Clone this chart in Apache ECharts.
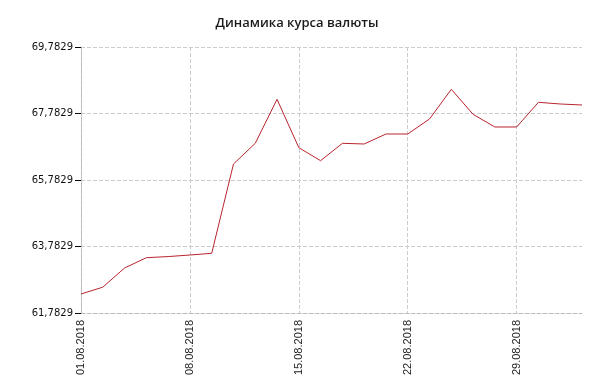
<!DOCTYPE html>
<html>
<head>
<meta charset="utf-8">
<script src="https://cdn.jsdelivr.net/npm/echarts@6/dist/echarts.min.js"></script>
<style>html,body{margin:0;padding:0;background:#fff}#c{width:594px;height:389px}</style>
</head>
<body>
<div id="c"></div>
<script>
var titleText = 'Динамика курса валюты';
var dates = ['01.08.2018','02.08.2018','03.08.2018','06.08.2018','07.08.2018','08.08.2018','09.08.2018','10.08.2018','13.08.2018','14.08.2018','15.08.2018','16.08.2018','17.08.2018','20.08.2018','21.08.2018','22.08.2018','23.08.2018','24.08.2018','27.08.2018','28.08.2018','29.08.2018','30.08.2018','31.08.2018','01.09.2018'];
var rates = [62.354, 62.560, 63.136, 63.446, 63.480, 63.527, 63.578, 66.264, 66.886, 68.209, 66.755, 66.364, 66.886, 66.866, 67.166, 67.166, 67.618, 68.510, 67.758, 67.377, 67.377, 68.119, 68.069, 68.039];
var yMin = 61.7829, yMax = 69.7829, yStep = 2;
var yTickLabels = ['61,7829', '63,7829', '65,7829', '67,7829', '69,7829'];

var chart = echarts.init(document.getElementById('c'));
chart.setOption({
  animation: false,
  title: {
    text: titleText, left: 'center', top: 12,
    textStyle: {fontFamily: 'Open Sans', fontSize: 13, fontWeight: 600, color: '#1a1a1a'}
  },
  grid: {left: 81, right: 12, top: 47, bottom: 76},
  xAxis: {
    type: 'category', data: dates, boundaryGap: false,
    axisLine: {lineStyle: {color: '#bbb', type: 'dashed'}},
    axisTick: {show: false},
    axisLabel: {interval: 4, rotate: 90, margin: 7, fontFamily: 'Liberation Sans', fontSize: 11, color: '#222'},
    splitLine: {show: true, interval: 4, lineStyle: {color: '#ccc', type: 'dashed'}}
  },
  yAxis: {
    type: 'value', min: yMin, max: yMax, interval: yStep,
    axisLine: {show: true, lineStyle: {color: '#bbb', type: 'dashed'}},
    axisTick: {show: true, length: 6, lineStyle: {color: '#000'}},
    axisLabel: {margin: 8, fontFamily: 'DejaVu Sans', fontSize: 10, color: '#111',
      formatter: function(v){ var k = Math.round((v - yMin) / yStep); return yTickLabels[k] || ''; }},
    splitLine: {show: true, lineStyle: {color: '#ccc', type: 'dashed'}}
  },
  series: [{
    type: 'line', data: rates, symbol: 'none',
    lineStyle: {color: '#b8242e', width: 1}
  }]
});
</script>
</body>
</html>
